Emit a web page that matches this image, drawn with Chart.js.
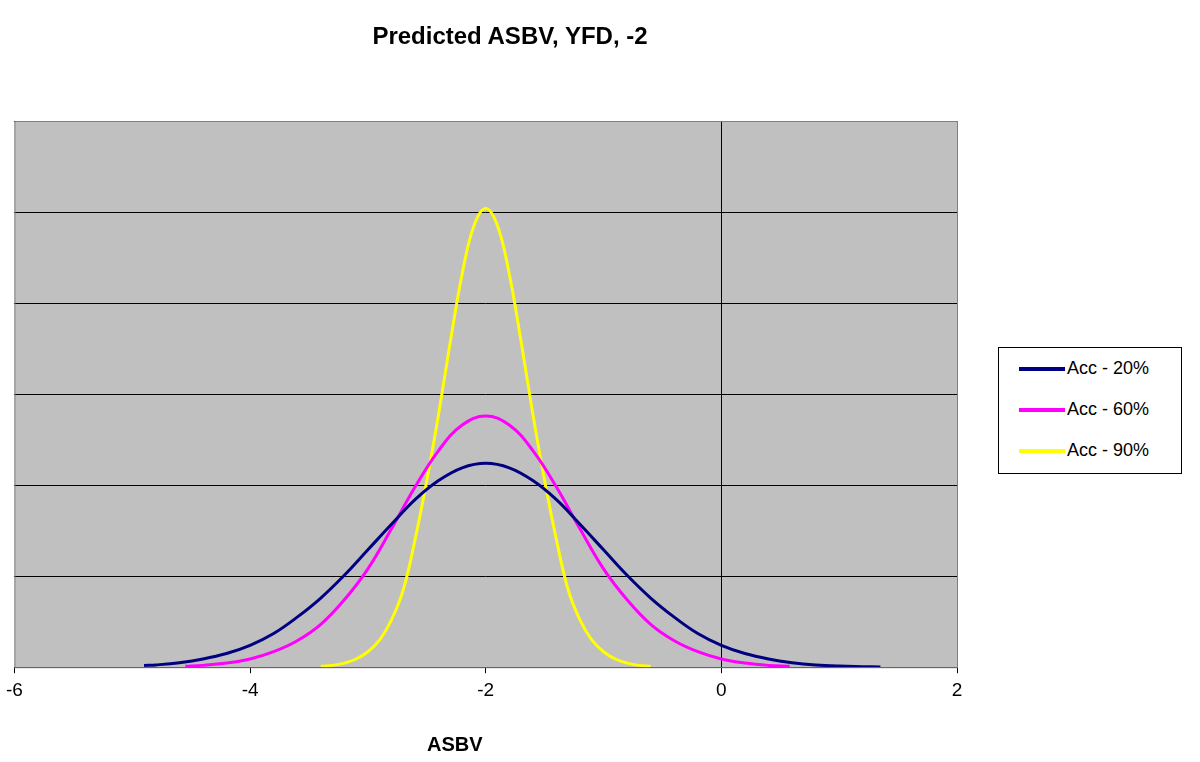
<!DOCTYPE html>
<html>
<head>
<meta charset="utf-8">
<script src="https://cdn.jsdelivr.net/npm/chart.js@4"></script>
<style>
  body { margin: 0; background: #fff; font-family: Arial, "Liberation Sans", sans-serif; }
  #wrap { position: relative; width: 1200px; height: 762px; }
  #title { position: absolute; left: 0; width: 1020px; top: 22px; text-align: center; font-weight: bold; font-size: 24px; }
  #xtitle { position: absolute; left: 427px; top: 733px; font-weight: bold; font-size: 20px; }
  #legend { position: absolute; left: 998px; top: 347px; width: 184px; height: 127px; border: 1px solid #000; background: #fff; box-sizing: border-box; }
  .item { position: absolute; left: 20px; font-size: 18px; display: flex; align-items: center; }
  .item span.sw { display: inline-block; width: 46px; height: 4px; margin-right: 2px; }
</style>
</head>
<body>
<div id="wrap">
  <canvas id="c" width="1200" height="762"></canvas>
  <div id="title">Predicted ASBV, YFD, -2</div>
  <div id="xtitle">ASBV</div>
  <div id="legend"></div>
</div>
<script>
// Données (axe y sans étiquettes, une unité = un quadrillage)
const seriesNames = ['Acc - 20%', 'Acc - 60%', 'Acc - 90%'];
const seriesColors = ['#000080', '#ff00ff', '#ffff00'];

const acc20X = [-4.9, -4.8, -4.6, -4.4, -4.2, -4.0, -3.8, -3.6, -3.4, -3.2, -3.0, -2.8, -2.6, -2.4, -2.2, -2.0,
  -1.8, -1.6, -1.4, -1.2, -1.0, -0.8, -0.6, -0.4, -0.2, 0.0, 0.2, 0.4, 0.6, 0.8, 1.0, 1.2, 1.35];
const acc20Y = [0.018, 0.025, 0.05, 0.09, 0.15, 0.24, 0.37, 0.55, 0.76, 1.01, 1.29, 1.57, 1.84, 2.05, 2.19, 2.24,
  2.19, 2.05, 1.84, 1.57, 1.29, 1.01, 0.76, 0.55, 0.37, 0.24, 0.15, 0.09, 0.05, 0.025, 0.012, 0.006, 0.003];

const acc60X = [-4.55, -4.4, -4.2, -4.0, -3.8, -3.6, -3.4, -3.2, -3.0, -2.8, -2.6, -2.4, -2.2, -2.0,
  -1.8, -1.6, -1.4, -1.2, -1.0, -0.8, -0.6, -0.4, -0.2, 0.0, 0.2, 0.4, 0.58];
const acc60Y = [0.01, 0.02, 0.045, 0.09, 0.17, 0.29, 0.47, 0.74, 1.08, 1.52, 1.98, 2.38, 2.66, 2.76,
  2.66, 2.38, 1.98, 1.52, 1.08, 0.74, 0.47, 0.29, 0.17, 0.09, 0.045, 0.02, 0.01];

const acc90X = [-3.4, -3.3, -3.2, -3.1, -3.0, -2.9, -2.8, -2.7, -2.6, -2.5, -2.4, -2.3, -2.2, -2.1, -2.0,
  -1.9, -1.8, -1.7, -1.6, -1.5, -1.4, -1.3, -1.2, -1.1, -1.0, -0.9, -0.8, -0.7, -0.6];
const acc90Y = [0.01, 0.02, 0.045, 0.09, 0.17, 0.30, 0.52, 0.85, 1.40, 2.05, 2.78, 3.58, 4.32, 4.85, 5.04,
  4.85, 4.32, 3.58, 2.78, 2.05, 1.40, 0.85, 0.52, 0.30, 0.17, 0.09, 0.045, 0.02, 0.01];

const xTicks = [-6, -4, -2, 0, 2];

function pts(xs, ys) {
  return xs.map((x, i) => ({ x: x, y: ys[i] }));
}

// Légende HTML
const legend = document.getElementById('legend');
seriesNames.forEach((name, i) => {
  const d = document.createElement('div');
  d.className = 'item';
  d.style.top = (10 + i * 41) + 'px';
  d.innerHTML = '<span class="sw" style="background:' + seriesColors[i] + '"></span>' + name;
  legend.appendChild(d);
});

const plotBg = {
  id: 'plotBg',
  beforeDraw(chart) {
    const a = chart.chartArea, ctx = chart.ctx;
    ctx.save();
    ctx.fillStyle = '#c0c0c0';
    ctx.fillRect(a.left, a.top, a.right - a.left, a.bottom - a.top);
    ctx.restore();
  },
  afterDatasetsDraw(chart) {
    const a = chart.chartArea, ctx = chart.ctx;
    ctx.save();
    ctx.strokeStyle = '#808080';
    ctx.lineWidth = 1;
    ctx.strokeRect(a.left + 0.5, a.top + 0.5, a.right - a.left, a.bottom - a.top);
    ctx.restore();
  }
};

const datasets = [pts(acc20X, acc20Y), pts(acc60X, acc60Y), pts(acc90X, acc90Y)].map((data, i) => ({
  label: seriesNames[i],
  data: data,
  borderColor: seriesColors[i],
  borderWidth: 3,
  pointRadius: 0,
  tension: 0.4,
  fill: false
}));

new Chart(document.getElementById('c').getContext('2d'), {
  type: 'scatter',
  data: { datasets: datasets },
  options: {
    responsive: false,
    animation: false,
    showLine: true,
    layout: { padding: { left: 12, right: 243, top: 121, bottom: 54 } },
    plugins: { legend: { display: false }, tooltip: { enabled: false } },
    scales: {
      x: {
        min: -6, max: 2,
        afterBuildTicks: axis => { axis.ticks = xTicks.map(v => ({ value: v })); },
        ticks: { color: '#000', font: { size: 19, family: 'Arial' }, padding: 6 },
        grid: {
          color: ctx => ctx.tick && ctx.tick.value === 0 ? '#000' : 'rgba(0,0,0,0)',
          tickColor: '#000', tickLength: 6
        },
        border: { color: '#000' }
      },
      y: {
        min: 0, max: 6,
        ticks: { display: false, stepSize: 1 },
        grid: { color: '#000', drawTicks: false },
        border: { display: false }
      }
    }
  },
  plugins: [plotBg]
});
</script>
</body>
</html>
